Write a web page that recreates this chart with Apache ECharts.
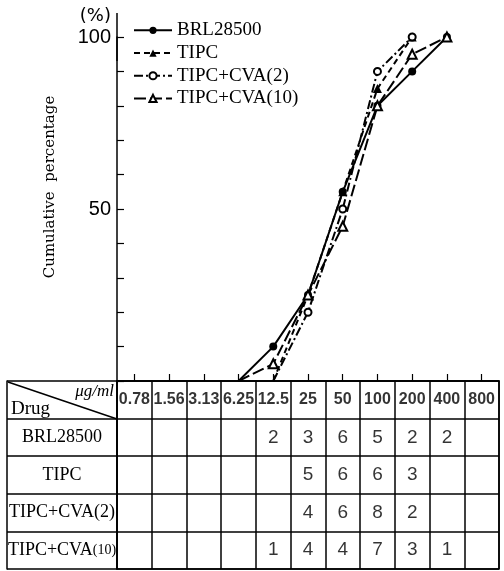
<!DOCTYPE html>
<html>
<head>
<meta charset="utf-8">
<script src="https://cdn.jsdelivr.net/npm/echarts@6/dist/echarts.min.js"></script>
<style>
  html, body { margin: 0; padding: 0; background: #fff; }
  #chart { width: 504px; height: 571px; }
</style>
</head>
<body>
<div id="chart"></div>
<script>
// concentrations (µg/ml) - table columns and x categories
var concs = ['0.78', '1.56', '3.13', '6.25', '12.5', '25', '50', '100', '200', '400', '800'];
var drugs = ['BRL28500', 'TIPC', 'TIPC+CVA(2)', 'TIPC+CVA(10)'];

// number of strains per MIC (table rows)
var brlCount   = [null, null, null, null, 2, 3, 6, 5, 2, 2, null];
var tipcCount  = [null, null, null, null, null, 5, 6, 6, 3, null, null];
var cva2Count  = [null, null, null, null, null, 4, 6, 8, 2, null, null];
var cva10Count = [null, null, null, null, 1, 4, 4, 7, 3, 1, null];

// cumulative percentage
var brlCum   = [null, null, null, 0, 10, 25, 55, 80, 90, 100, null];
var tipcCum  = [null, null, null, null, 0, 25, 55, 85, 100, null, null];
var cva2Cum  = [null, null, null, null, 0, 20, 50, 90, 100, null, null];
var cva10Cum = [null, null, null, 0, 5, 25, 45, 80, 95, 100, null];

var chart = echarts.init(document.getElementById('chart'));

function lineData(arr) {
  return arr.map(function (v) {
    if (v === 0) return { value: 0, symbol: 'none' };
    return v;
  });
}

// cells of the table (header row + counts)
var cellData = [];
concs.forEach(function (c, i) {
  cellData.push({ value: [i, 0, c], label: { fontFamily: 'Liberation Sans Narrow, Liberation Sans', fontSize: 16, fontWeight: 'bold' } });
});
[brlCount, tipcCount, cva2Count, cva10Count].forEach(function (row, r) {
  row.forEach(function (v, i) {
    if (v != null) cellData.push([i, r + 1, v]);
  });
});

var serif = 'Liberation Serif';
var black = '#000';

var option = {
  backgroundColor: '#fff',
  animation: false,
  legend: {
    orient: 'vertical',
    left: 128,
    top: 14,
    itemWidth: 38,
    itemHeight: 9,
    itemGap: 0,
    textStyle: { fontFamily: serif, fontSize: 19, color: black, lineHeight: 22.7 },
    data: drugs
  },
  grid: [
    { left: 117, right: 5, top: 37, bottom: 190 },
    { left: 117, right: 5, top: 381, height: 188, show: true, borderColor: black, borderWidth: 1.5 }
  ],
  xAxis: [
    {
      type: 'category', gridIndex: 0, data: concs, boundaryGap: true,
      axisLine: { lineStyle: { color: black, width: 1.5 } },
      axisTick: { show: true, interval: 0, inside: true, alignWithLabel: true, length: 7, lineStyle: { color: black, width: 1.2 } },
      axisLabel: { show: false, interval: 0 }
    },
    {
      type: 'category', gridIndex: 1, data: concs, boundaryGap: true,
      axisLine: { show: false }, axisTick: { show: false }, axisLabel: { show: false },
      splitLine: { show: true, interval: 0, lineStyle: { color: black, width: 1.5 } }
    }
  ],
  yAxis: [
    {
      type: 'value', gridIndex: 0, min: 0, max: 100, interval: 10,
      name: '(%)', nameLocation: 'end', nameGap: 12,
      nameTextStyle: { fontFamily: 'DejaVu Sans', fontSize: 18, color: black, align: 'right', padding: [0, 6, 0, 0] },
      axisLine: {
        show: true, lineStyle: { color: black, width: 1.5 },
        symbol: ['none', 'rect'], symbolSize: [1.5, 48]
      },
      axisTick: { show: true, inside: true, length: 7, lineStyle: { color: black, width: 1.2 } },
      axisLabel: {
        margin: 6, color: black, fontFamily: 'Liberation Sans Narrow, Liberation Sans', fontSize: 20,
        formatter: function (v) { return (v === 50 || v === 100) ? v : ''; }
      },
      splitLine: { show: false }
    },
    {
      type: 'category', gridIndex: 1, inverse: true, data: [''].concat(drugs),
      axisLine: { show: true, lineStyle: { color: black, width: 1.5 } },
      axisTick: { show: true, interval: 0, length: 110, lineStyle: { color: black, width: 1.5 } },
      axisLabel: {
        margin: 55, align: 'center', color: black, fontFamily: serif, fontSize: 18, interval: 0,
        formatter: function (v) { return v.replace('(10)', '{s|(10)}'); },
        rich: { s: { fontFamily: serif, fontSize: 14, color: black } }
      },
      splitLine: { show: true, interval: 0, lineStyle: { color: black, width: 1.5 } }
    },
    {
      type: 'category', gridIndex: 1, inverse: true, data: [''].concat(drugs),
      position: 'left', offset: 110,
      axisLine: { show: true, lineStyle: { color: black, width: 1.5 } },
      axisTick: { show: false }, axisLabel: { show: false }
    }
  ],
  series: [
    {
      name: 'BRL28500', type: 'line', xAxisIndex: 0, yAxisIndex: 0,
      data: lineData(brlCum), symbol: 'circle', symbolSize: 8,
      lineStyle: { color: black, width: 2 }, itemStyle: { color: black }
    },
    {
      name: 'TIPC', type: 'line', xAxisIndex: 0, yAxisIndex: 0,
      data: lineData(tipcCum), symbol: 'triangle', symbolSize: 9,
      lineStyle: { color: black, width: 2, type: [6, 4] }, itemStyle: { color: black }
    },
    {
      name: 'TIPC+CVA(2)', type: 'line', xAxisIndex: 0, yAxisIndex: 0,
      data: lineData(cva2Cum), symbol: 'emptyCircle', symbolSize: 7,
      lineStyle: { color: black, width: 2, type: [9, 3, 2, 3] },
      itemStyle: { color: black, borderWidth: 1.5 }
    },
    {
      name: 'TIPC+CVA(10)', type: 'line', xAxisIndex: 0, yAxisIndex: 0,
      data: lineData(cva10Cum), symbol: 'emptyTriangle', symbolSize: 9,
      lineStyle: { color: black, width: 2, type: [12, 4] },
      itemStyle: { color: black, borderWidth: 1.5 }
    },
    {
      type: 'scatter', xAxisIndex: 1, yAxisIndex: 1, symbolSize: 0,
      data: cellData,
      label: {
        show: true, position: 'inside', color: black,
        fontFamily: 'Liberation Sans', fontSize: 19,
        formatter: function (p) { return p.value[2]; }
      },
      silent: true
    }
  ],
  graphic: [
    {
      type: 'text', x: 50, y: 187, rotation: Math.PI / 2,
      style: {
        text: 'Cumulative  percentage', fill: black,
        font: '15px "DejaVu Serif"', textAlign: 'center', textVerticalAlign: 'middle'
      }
    },
    {
      type: 'line', shape: { x1: 8, y1: 382, x2: 117, y2: 419 },
      style: { stroke: black, lineWidth: 1.5 }
    },
    {
      type: 'text', x: 114, y: 392,
      style: { text: 'μg/ml', fill: black, font: 'italic 17px "Liberation Serif"', textAlign: 'right', textVerticalAlign: 'middle' }
    },
    {
      type: 'text', x: 11, y: 409,
      style: { text: 'Drug', fill: black, font: '19px "Liberation Serif"', textAlign: 'left', textVerticalAlign: 'middle' }
    }
  ]
};

option && chart.setOption(option);
</script>
</body>
</html>
